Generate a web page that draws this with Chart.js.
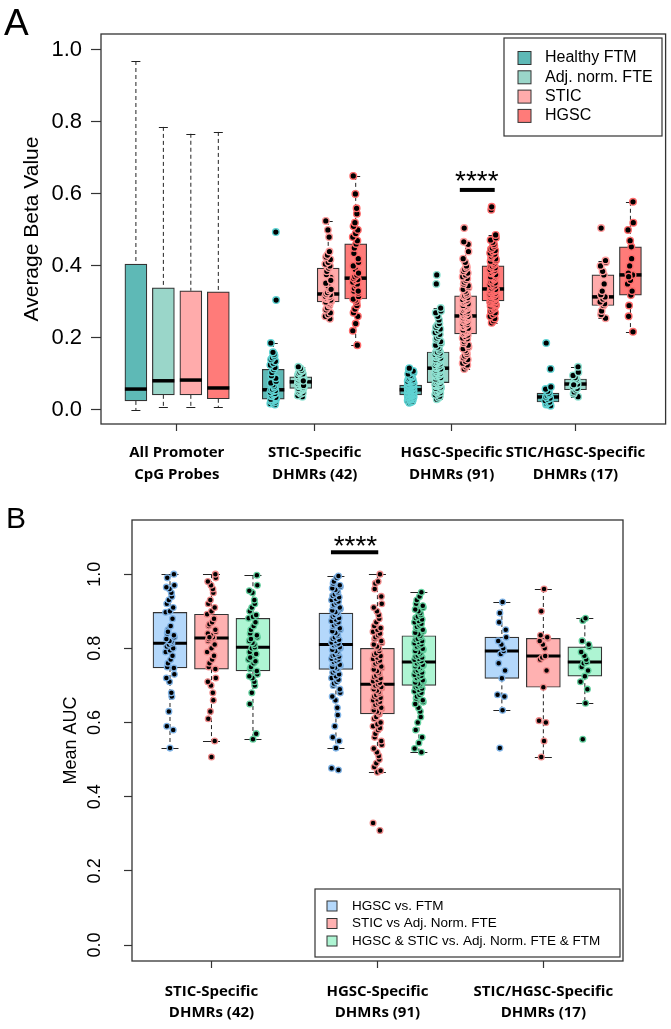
<!DOCTYPE html>
<html>
<head>
<meta charset="utf-8">
<script src="https://cdn.jsdelivr.net/npm/chart.js@4.4.1/dist/chart.umd.min.js"></script>
<style>
  html, body { margin: 0; padding: 0; background: #fff; }
  #wrapA { position: absolute; left: 0; top: 0; width: 671px; height: 490px; }
  #wrapB { position: absolute; left: 0; top: 490px; width: 671px; height: 539px; }
</style>
</head>
<body>
<div id="wrapA"><canvas id="chartA"></canvas></div>
<div id="wrapB"><canvas id="chartB"></canvas></div>
<script>
const FONT = "'Liberation Sans', Arial, Helvetica, sans-serif";
const LABEL_FONT = "'Open Sans', Lato, sans-serif";

/* ---------- Panel A : average beta value ---------- */
const groupsA = [['All Promoter', 'CpG Probes'], ['STIC-Specific', 'DHMRs (42)'], ['HGSC-Specific', 'DHMRs (91)'], ['STIC/HGSC-Specific', 'DHMRs (17)']];
const seriesA = ['Healthy FTM', 'Adj. norm. FTE', 'STIC', 'HGSC'];
const yTicksA = [0, 0.2, 0.4, 0.6, 0.8, 1.0];

// box stats, one entry per group: [lower whisker, Q1, median, Q3, upper whisker]
const ftmBoxA  = [[0.000, 0.025, 0.058, 0.405, 0.969], [0.015, 0.030, 0.056, 0.113, 0.186], [0.020, 0.042, 0.056, 0.069, 0.116], [0.012, 0.022, 0.036, 0.047, 0.064]];
const adjBoxA  = [[0.008, 0.042, 0.081, 0.339, 0.786], [0.037, 0.060, 0.078, 0.092, 0.120], [0.030, 0.076, 0.116, 0.161, 0.283], [0.037, 0.056, 0.072, 0.086, 0.120]];
const sticBoxA = [[0.008, 0.042, 0.083, 0.331, 0.767], [0.253, 0.300, 0.322, 0.394, 0.525], [0.114, 0.211, 0.261, 0.317, 0.470], [0.255, 0.290, 0.314, 0.375, 0.415]];
const hgscBoxA = [[0.008, 0.031, 0.061, 0.328, 0.772], [0.180, 0.308, 0.366, 0.461, 0.650], [0.242, 0.303, 0.336, 0.400, 0.486], [0.217, 0.319, 0.375, 0.453, 0.578]];

// per-region values (no dots drawn for all promoter probes)
const ftmDotsA = [
  [],
  [0.015,0.018,0.02,0.022,0.024,0.025,0.027,0.028,0.029,0.03,0.032,0.035,0.038,0.04,0.043,0.046,0.049,0.052,0.054,0.056,0.058,0.062,0.066,0.07,0.075,0.08,0.088,0.095,0.104,0.112,0.118,0.125,0.13,0.135,0.14,0.145,0.15,0.155,0.16,0.186,0.305,0.494],
  [0.02,0.022,0.024,0.026,0.028,0.029,0.03,0.031,0.032,0.033,0.034,0.035,0.036,0.037,0.038,0.038,0.039,0.04,0.04,0.041,0.041,0.042,
   0.043,0.043,0.044,0.044,0.045,0.045,0.046,0.046,0.047,0.047,0.048,0.048,0.049,0.05,0.05,0.051,0.052,0.052,0.053,0.054,0.054,0.055,0.056,
   0.057,0.057,0.058,0.058,0.059,0.06,0.06,0.061,0.061,0.062,0.062,0.063,0.064,0.064,0.065,0.065,0.066,0.067,0.067,0.068,0.068,0.069,0.069,
   0.07,0.071,0.072,0.073,0.074,0.075,0.076,0.077,0.078,0.079,0.08,0.082,0.084,0.086,0.088,0.09,0.093,0.096,0.1,0.104,0.108,0.112,0.116],
  [0.012,0.015,0.018,0.02,0.022,0.026,0.03,0.033,0.036,0.04,0.043,0.047,0.052,0.058,0.064,0.114,0.186]
];
const adjDotsA = [
  [],
  [0.037,0.04,0.045,0.048,0.05,0.052,0.055,0.057,0.059,0.06,0.062,0.064,0.066,0.068,0.07,0.072,0.074,0.075,0.077,0.078,0.079,0.08,0.082,0.083,0.084,0.086,0.087,0.089,0.09,0.092,0.094,0.096,0.098,0.1,0.102,0.105,0.108,0.11,0.115,0.12,0.068,0.081],
  [0.03,0.034,0.038,0.042,0.045,0.048,0.05,0.052,0.054,0.056,0.058,0.06,0.062,0.064,0.066,0.067,0.068,0.07,0.071,0.073,0.074,0.076,
   0.078,0.08,0.082,0.084,0.086,0.088,0.09,0.092,0.094,0.096,0.098,0.1,0.101,0.102,0.104,0.105,0.107,0.108,0.11,0.111,0.113,0.114,0.116,
   0.118,0.12,0.122,0.124,0.126,0.128,0.13,0.132,0.134,0.136,0.138,0.14,0.142,0.144,0.146,0.148,0.15,0.152,0.154,0.156,0.158,0.16,0.161,
   0.165,0.17,0.175,0.18,0.185,0.19,0.195,0.2,0.205,0.21,0.215,0.22,0.225,0.23,0.235,0.24,0.25,0.26,0.27,0.275,0.283,0.35,0.375],
  [0.037,0.045,0.05,0.056,0.06,0.065,0.068,0.072,0.075,0.079,0.082,0.086,0.09,0.096,0.105,0.12,0.07]
];
const sticDotsA = [
  [],
  [0.253,0.26,0.265,0.27,0.278,0.284,0.29,0.294,0.297,0.3,0.302,0.305,0.308,0.31,0.312,0.314,0.316,0.318,0.32,0.322,0.326,0.332,0.338,0.345,0.352,0.36,0.368,0.376,0.385,0.394,0.4,0.405,0.41,0.418,0.425,0.43,0.44,0.48,0.5,0.525,0.335,0.36],
  [0.114,0.12,0.125,0.13,0.135,0.14,0.145,0.15,0.155,0.16,0.165,0.17,0.175,0.18,0.185,0.19,0.195,0.198,0.2,0.204,0.208,0.211,
   0.213,0.215,0.218,0.22,0.222,0.225,0.227,0.23,0.232,0.235,0.237,0.24,0.242,0.244,0.246,0.248,0.25,0.252,0.254,0.256,0.258,0.26,0.261,
   0.263,0.265,0.268,0.27,0.272,0.275,0.277,0.28,0.282,0.285,0.287,0.29,0.292,0.295,0.297,0.3,0.302,0.305,0.307,0.31,0.312,0.315,0.317,
   0.32,0.325,0.33,0.335,0.34,0.345,0.35,0.355,0.36,0.365,0.37,0.375,0.38,0.385,0.39,0.395,0.4,0.41,0.42,0.44,0.46,0.467,0.505],
  [0.255,0.265,0.275,0.29,0.295,0.3,0.308,0.314,0.32,0.33,0.35,0.375,0.385,0.4,0.41,0.415,0.505]
];
const hgscDotsA = [
  [],
  [0.18,0.22,0.24,0.26,0.27,0.28,0.29,0.3,0.305,0.308,0.315,0.325,0.33,0.338,0.345,0.35,0.355,0.36,0.362,0.366,0.37,0.375,0.385,0.39,0.4,0.41,0.42,0.435,0.45,0.461,0.47,0.48,0.49,0.5,0.51,0.52,0.545,0.56,0.6,0.65,0.38,0.33],
  [0.242,0.248,0.254,0.26,0.265,0.27,0.274,0.278,0.281,0.284,0.287,0.289,0.291,0.293,0.295,0.296,0.297,0.298,0.3,0.301,0.302,0.303,
   0.305,0.306,0.308,0.309,0.311,0.312,0.314,0.315,0.317,0.318,0.32,0.321,0.323,0.324,0.326,0.327,0.329,0.33,0.331,0.332,0.333,0.335,0.336,
   0.339,0.342,0.345,0.348,0.35,0.353,0.356,0.359,0.362,0.365,0.368,0.37,0.373,0.376,0.379,0.382,0.385,0.388,0.39,0.393,0.395,0.398,0.4,
   0.403,0.406,0.41,0.413,0.416,0.42,0.423,0.426,0.43,0.433,0.436,0.44,0.443,0.446,0.45,0.455,0.46,0.466,0.472,0.478,0.486,0.556,0.564],
  [0.217,0.26,0.29,0.319,0.33,0.35,0.36,0.375,0.38,0.4,0.42,0.453,0.47,0.5,0.52,0.578,0.37]
];

/* ---------- Panel B : mean AUC ---------- */
const groupsB = [['STIC-Specific', 'DHMRs (42)'], ['HGSC-Specific', 'DHMRs (91)'], ['STIC/HGSC-Specific', 'DHMRs (17)']];
const seriesB = ['HGSC vs. FTM', 'STIC vs Adj. Norm. FTE', 'HGSC & STIC vs. Adj. Norm. FTE & FTM'];
const yTicksB = [0, 0.2, 0.4, 0.6, 0.8, 1.0];

const hgscFtmBoxB = [[0.531, 0.747, 0.814, 0.897, 1.000], [0.531, 0.743, 0.810, 0.895, 0.995], [0.633, 0.719, 0.793, 0.830, 0.925]];
const sticAdjBoxB = [[0.550, 0.744, 0.828, 0.892, 1.000], [0.466, 0.623, 0.703, 0.800, 1.000], [0.507, 0.695, 0.779, 0.827, 0.960]];
const bothBoxB    = [[0.555, 0.739, 0.803, 0.881, 0.997], [0.520, 0.700, 0.763, 0.834, 0.951], [0.652, 0.725, 0.763, 0.804, 0.881]];

const hgscFtmDotsB = [
  [0.531,0.58,0.59,0.63,0.67,0.68,0.71,0.72,0.73,0.747,0.75,0.76,0.77,0.78,0.79,0.795,0.8,0.805,0.81,0.814,0.818,0.82,0.825,0.83,0.835,0.84,0.85,0.86,0.88,0.897,0.9,0.91,0.92,0.93,0.94,0.95,0.96,0.965,0.97,1.0,0.99,0.845],
  [0.472,0.477,0.531,0.55,0.56,0.59,0.62,0.64,0.66,0.67,0.68,0.69,0.7,0.705,0.71,0.715,0.72,0.725,0.73,0.735,0.74,0.743,
   0.745,0.748,0.75,0.753,0.756,0.76,0.763,0.766,0.77,0.772,0.775,0.778,0.78,0.783,0.786,0.79,0.793,0.796,0.8,0.803,0.806,0.808,0.81,
   0.813,0.816,0.82,0.823,0.826,0.83,0.834,0.838,0.842,0.846,0.85,0.854,0.858,0.862,0.866,0.87,0.874,0.878,0.882,0.886,0.89,0.893,0.895,
   0.898,0.902,0.906,0.91,0.914,0.918,0.922,0.926,0.93,0.934,0.938,0.942,0.946,0.95,0.954,0.958,0.962,0.966,0.97,0.975,0.98,0.99,0.995],
  [0.531,0.633,0.67,0.675,0.719,0.74,0.76,0.785,0.793,0.8,0.81,0.82,0.83,0.85,0.87,0.895,0.925]
];
const sticAdjDotsB = [
  [0.507,0.55,0.61,0.63,0.66,0.68,0.7,0.71,0.72,0.744,0.75,0.76,0.77,0.78,0.79,0.8,0.81,0.82,0.825,0.828,0.83,0.835,0.84,0.845,0.85,0.86,0.865,0.87,0.88,0.892,0.9,0.91,0.92,0.93,0.95,0.96,0.97,0.98,0.99,1.0,0.825,0.83],
  [0.309,0.329,0.466,0.47,0.48,0.49,0.5,0.51,0.52,0.53,0.54,0.55,0.56,0.57,0.58,0.585,0.59,0.595,0.6,0.61,0.615,0.623,
   0.626,0.63,0.633,0.637,0.64,0.644,0.648,0.652,0.656,0.66,0.663,0.667,0.67,0.674,0.678,0.682,0.686,0.69,0.693,0.696,0.698,0.7,0.703,
   0.707,0.711,0.715,0.719,0.723,0.727,0.731,0.735,0.739,0.743,0.747,0.751,0.755,0.759,0.763,0.767,0.771,0.775,0.779,0.783,0.787,0.793,0.8,
   0.805,0.81,0.815,0.82,0.825,0.83,0.835,0.84,0.845,0.85,0.855,0.86,0.87,0.88,0.89,0.9,0.91,0.92,0.94,0.96,0.975,0.98,1.0],
  [0.507,0.55,0.6,0.605,0.695,0.74,0.77,0.775,0.779,0.8,0.81,0.82,0.827,0.83,0.835,0.9,0.96]
];
const bothDotsB = [
  [0.555,0.57,0.65,0.68,0.7,0.71,0.72,0.725,0.73,0.739,0.745,0.75,0.76,0.765,0.77,0.78,0.785,0.79,0.8,0.803,0.81,0.815,0.82,0.83,0.835,0.84,0.85,0.86,0.87,0.881,0.885,0.89,0.9,0.91,0.92,0.93,0.95,0.955,0.97,0.997,0.775,0.825],
  [0.52,0.53,0.545,0.56,0.58,0.6,0.615,0.63,0.64,0.65,0.655,0.66,0.665,0.67,0.675,0.68,0.684,0.688,0.692,0.695,0.698,0.7,
   0.703,0.705,0.708,0.711,0.714,0.717,0.72,0.723,0.726,0.729,0.732,0.735,0.738,0.741,0.744,0.747,0.75,0.752,0.754,0.756,0.758,0.76,0.763,
   0.766,0.769,0.772,0.775,0.778,0.781,0.784,0.787,0.79,0.793,0.796,0.799,0.802,0.805,0.808,0.811,0.814,0.817,0.82,0.823,0.826,0.83,0.834,
   0.838,0.842,0.846,0.85,0.854,0.858,0.862,0.866,0.87,0.874,0.878,0.882,0.886,0.89,0.895,0.9,0.905,0.91,0.915,0.92,0.93,0.94,0.951],
  [0.555,0.652,0.69,0.71,0.725,0.74,0.75,0.76,0.763,0.77,0.78,0.79,0.804,0.81,0.82,0.875,0.881]
];

// horizontal spread pattern for the dots (position only)
const JITTER = [0, 0.55, -0.45, 0.85, -0.8, 0.3, -0.25, 0.7, -0.95, 0.15, -0.6, 0.95, -0.1, 0.4, -0.7];

function dotData(dotsPerGroup, groupPos, slot, spread) {
    const out = [];
    dotsPerGroup.forEach(function (vals, gi) {
        vals.forEach(function (v, i) {
            out.push({ x: groupPos[gi] + slot + JITTER[(i * 7 + gi) % JITTER.length] * spread, y: v });
        });
    });
    return out;
}

/**
 * whiskers, medians, frame, legend and significance marks
 */
const boxplotExtras = {
    id: 'boxplotExtras',
    beforeDatasetsDraw(chart, args, opts) {
        const ctx = chart.ctx, y = chart.scales.y;
        ctx.save();
        ctx.strokeStyle = '#222';
        ctx.lineWidth = 1;
        chart.data.datasets.forEach(function (ds, di) {
            if (!ds.boxStats) return;
            chart.getDatasetMeta(di).data.forEach(function (bar, i) {
                const s = ds.boxStats[i], cx = bar.x;
                ctx.setLineDash(opts.dash);
                ctx.beginPath();
                ctx.moveTo(cx, y.getPixelForValue(s[4]));
                ctx.lineTo(cx, y.getPixelForValue(s[3]));
                ctx.moveTo(cx, y.getPixelForValue(s[1]));
                ctx.lineTo(cx, y.getPixelForValue(s[0]));
                ctx.stroke();
                ctx.setLineDash([]);
                ctx.beginPath();
                [s[0], s[4]].forEach(function (v) {
                    const py = Math.round(y.getPixelForValue(v)) + 0.5;
                    ctx.moveTo(cx - opts.cap / 2, py);
                    ctx.lineTo(cx + opts.cap / 2, py);
                });
                ctx.stroke();
            });
        });
        ctx.restore();
    },
    afterDatasetDraw(chart, args, opts) {
        const ds = chart.data.datasets[args.index];
        if (!ds.boxStats) return;
        const ctx = chart.ctx, y = chart.scales.y;
        ctx.save();
        ctx.strokeStyle = '#000';
        ctx.lineWidth = opts.medianWidth;
        args.meta.data.forEach(function (bar, i) {
            const py = y.getPixelForValue(ds.boxStats[i][2]);
            ctx.beginPath();
            ctx.moveTo(bar.x - bar.width / 2, py);
            ctx.lineTo(bar.x + bar.width / 2, py);
            ctx.stroke();
        });
        ctx.restore();
    },
    afterDraw(chart, args, opts) {
        const ctx = chart.ctx, a = chart.chartArea;
        const xs = chart.scales.x, ys = chart.scales.y;
        ctx.save();
        // plot frame
        ctx.strokeStyle = '#333';
        ctx.lineWidth = 1.3;
        ctx.strokeRect(a.left, a.top, a.right - a.left, a.bottom - a.top);

        // significance bar
        const sg = opts.sig;
        ctx.fillStyle = '#000';
        ctx.fillRect(xs.getPixelForValue(sg.x0), ys.getPixelForValue(sg.yBar) - 2, xs.getPixelForValue(sg.x1) - xs.getPixelForValue(sg.x0), 4);
        ctx.font = sg.size + 'px ' + FONT;
        ctx.textAlign = 'center';
        ctx.textBaseline = 'alphabetic';
        ctx.fillText(sg.text, xs.getPixelForValue(sg.xText), ys.getPixelForValue(sg.yText));

        // legend
        const lg = opts.legend;
        ctx.strokeStyle = '#333';
        ctx.lineWidth = 1.2;
        ctx.fillStyle = '#fff';
        ctx.fillRect(lg.x, lg.y, lg.w, lg.h);
        ctx.strokeRect(lg.x, lg.y, lg.w, lg.h);
        ctx.font = lg.size + 'px ' + FONT;
        ctx.textAlign = 'left';
        ctx.textBaseline = 'middle';
        lg.items.forEach(function (name, i) {
            const cy = lg.firstY + i * lg.rowH;
            ctx.fillStyle = lg.colors[i];
            ctx.fillRect(lg.sqX, cy - lg.sq / 2, lg.sq, lg.sq);
            ctx.lineWidth = 1;
            ctx.strokeRect(lg.sqX, cy - lg.sq / 2, lg.sq, lg.sq);
            ctx.fillStyle = '#000';
            ctx.fillText(name, lg.textX, cy);
        });

        // panel letter
        ctx.font = opts.panel.size + 'px ' + FONT;
        ctx.textBaseline = 'alphabetic';
        ctx.fillText(opts.panel.text, opts.panel.x, opts.panel.y);
        ctx.restore();
    }
};

function buildChart(canvasId, cfg) {
    const datasets = [];
    cfg.series.forEach(function (name, si) {
        datasets.push({
            type: 'bar',
            label: name,
            data: cfg.boxes[si].map(function (s, gi) { return { x: cfg.groupPos[gi] + si, y: [s[1], s[3]] }; }),
            boxStats: cfg.boxes[si],
            backgroundColor: cfg.fill[si],
            borderColor: '#333',
            borderWidth: 1.2,
            borderSkipped: false,
            barThickness: cfg.boxWidth,
            grouped: false,
            order: 2
        });
    });
    cfg.series.forEach(function (name, si) {
        datasets.push({
            type: 'scatter',
            label: name,
            data: dotData(cfg.dots[si], cfg.groupPos, si, cfg.spread),
            pointRadius: cfg.dotR,
            pointBackgroundColor: '#000',
            pointBorderColor: cfg.edge[si],
            pointBorderWidth: cfg.dotBorder,
            order: 0
        });
    });

    return new Chart(document.getElementById(canvasId), {
        type: 'bar',
        data: { datasets: datasets },
        plugins: [boxplotExtras],
        options: {
            responsive: true,
            maintainAspectRatio: false,
            animation: false,
            layout: { padding: cfg.padding },
            plugins: {
                legend: { display: false },
                tooltip: { enabled: false },
                boxplotExtras: cfg.extras
            },
            scales: {
                x: {
                    type: 'linear',
                    min: cfg.xMin,
                    max: cfg.xMax,
                    offset: false,
                    afterBuildTicks: function (ax) { ax.ticks = cfg.xTicks.map(function (v) { return { value: v }; }); },
                    afterFit: function (ax) { ax.height = cfg.xAxisH; },
                    grid: { offset: false, drawOnChartArea: false, drawTicks: true, tickLength: 7, tickColor: '#333', tickWidth: 1.2 },
                    border: { display: false },
                    ticks: {
                        autoSkip: false, maxRotation: 0, minRotation: 0,
                        callback: function (v, i) { return cfg.groups[i]; },
                        font: { family: LABEL_FONT, size: 15, weight: 'bold', lineHeight: cfg.xLine + 'px' },
                        color: '#000',
                        padding: cfg.xPad
                    }
                },
                y: {
                    min: cfg.yMin,
                    max: cfg.yMax,
                    afterBuildTicks: function (ax) { ax.ticks = cfg.yTicks.map(function (v) { return { value: v }; }); },
                    afterFit: function (ax) { ax.width = cfg.yAxisW; },
                    grid: { offset: false, drawOnChartArea: false, drawTicks: true, tickLength: cfg.yTickLen, tickColor: '#333', tickWidth: 1.2 },
                    border: { display: false },
                    ticks: {
                        callback: function (v) { return v.toFixed(1); },
                        font: { family: FONT, size: cfg.yTickSize },
                        color: '#000',
                        padding: cfg.yPad,
                        minRotation: cfg.yRot,
                        maxRotation: cfg.yRot,
                        crossAlign: cfg.yCross
                    },
                    title: {
                        display: true,
                        text: cfg.yTitle,
                        font: { family: FONT, size: cfg.yTitleSize },
                        color: '#000',
                        padding: { top: cfg.yTitlePad, bottom: 0 }
                    }
                }
            }
        }
    });
}

document.addEventListener("DOMContentLoaded", function () {

    buildChart('chartA', {
        series: seriesA,
        groups: groupsA,
        groupPos: [1, 6, 11, 16],
        boxes: [ftmBoxA, adjBoxA, sticBoxA, hgscBoxA],
        dots: [ftmDotsA, adjDotsA, sticDotsA, hgscDotsA],
        fill: ['#5eb9b6', '#9ad6c9', '#ffabab', '#ff7b79'],
        edge: ['#5fd3d3', '#8fe3d3', '#ff9c9c', '#ff6a6a'],
        boxWidth: 22, spread: 0.11, dotR: 3.3, dotBorder: 1.4,
        padding: { left: 0, top: 34, right: 5, bottom: 0 },
        xMin: -0.27, xMax: 20.28, xTicks: [2.49, 7.51, 12.49, 17.0], xAxisH: 66, xLine: 22, xPad: 11,
        yMin: -0.039, yMax: 1.044, yTicks: yTicksA, yAxisW: 101, yTickLen: 10, yTickSize: 22, yPad: 9,
        yRot: 0, yCross: 'near',
        yTitle: 'Average Beta Value', yTitleSize: 21, yTitlePad: 20,
        extras: {
            dash: [4, 3], cap: 9, medianWidth: 3.5,
            sig: { text: '****', size: 28, x0: 12.79, x1: 14.06, yBar: 0.611, xText: 13.41, yText: 0.611 },
            legend: { x: 504, y: 38, w: 158, h: 98, items: seriesA, colors: ['#5eb9b6', '#9ad6c9', '#ffabab', '#ff7b79'],
                      sqX: 518, sq: 13, firstY: 58, rowH: 19.3, textX: 545, size: 16 },
            panel: { text: 'A', size: 37, x: 4, y: 35 }
        }
    });

    buildChart('chartB', {
        series: seriesB,
        groups: groupsB,
        groupPos: [1, 5, 9],
        boxes: [hgscFtmBoxB, sticAdjBoxB, bothBoxB],
        dots: [hgscFtmDotsB, sticAdjDotsB, bothDotsB],
        fill: ['#b4d8fb', '#ffb1b1', '#aef5d3'],
        edge: ['#7fb3e6', '#f08a8a', '#63d19f'],
        boxWidth: 34, spread: 0.11, dotR: 2.9, dotBorder: 1.3,
        padding: { left: 0, top: 30, right: 48, bottom: 0 },
        xMin: 0.084, xMax: 11.92, xTicks: [2, 6, 10], xAxisH: 68, xLine: 21, xPad: 13.5,
        yMin: -0.043, yMax: 1.146, yTicks: yTicksB, yAxisW: 132, yTickLen: 8, yTickSize: 18, yPad: 16,
        yRot: 90, yCross: 'center',
        yTitle: 'Mean AUC', yTitleSize: 18, yTitlePad: 60,
        extras: {
            dash: [4, 3], cap: 17, medianWidth: 3,
            sig: { text: '****', size: 28, x0: 4.88, x1: 6.02, yBar: 1.059, xText: 5.47, yText: 1.052 },
            legend: { x: 315, y: 399, w: 305, h: 68, items: seriesB, colors: ['#b4d8fb', '#ffb1b1', '#aef5d3'],
                      sqX: 327, sq: 10, firstY: 416, rowH: 17.5, textX: 352, size: 13.5 },
            panel: { text: 'B', size: 30, x: 6, y: 38 }
        }
    });
});
</script>
</body>
</html>
